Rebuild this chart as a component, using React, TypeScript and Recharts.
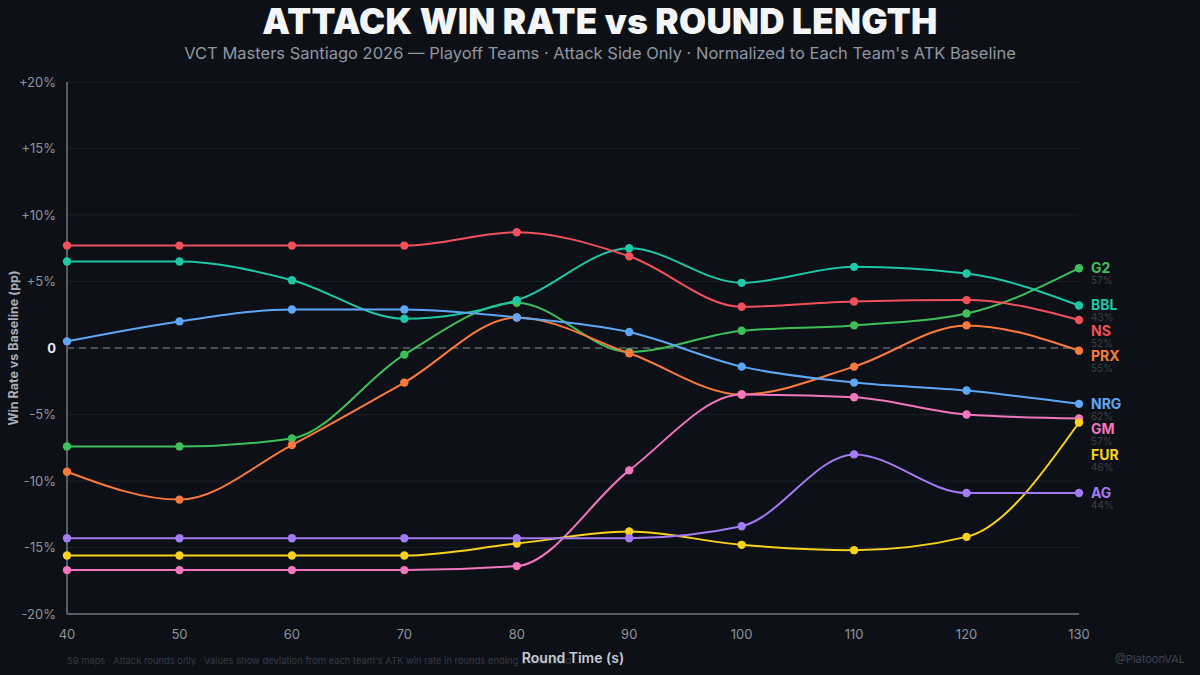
import React from "react";
import {
  LineChart, Line, XAxis, YAxis, CartesianGrid, ReferenceLine,
} from "recharts";

// round-length buckets (seconds)
const roundTimes = [40, 50, 60, 70, 80, 90, 100, 110, 120, 130];

// deviation from each team's ATK baseline, in pp
const nsValues = [7.7, 7.7, 7.7, 7.7, 8.7, 6.9, 3.1, 3.5, 3.6, 2.1];
const bblValues = [6.5, 6.5, 5.1, 2.2, 3.6, 7.5, 4.9, 6.1, 5.6, 3.2];
const g2Values = [-7.4, -7.4, -6.8, -0.5, 3.4, -0.3, 1.3, 1.7, 2.6, 6.0];
const nrgValues = [0.5, 2.0, 2.9, 2.9, 2.3, 1.2, -1.4, -2.6, -3.2, -4.2];
const prxValues = [-9.3, -11.4, -7.3, -2.6, 2.3, -0.4, -3.5, -1.4, 1.7, -0.2];
const gmValues = [-16.7, -16.7, -16.7, -16.7, -16.4, -9.2, -3.5, -3.7, -5.0, -5.3];
const furValues = [-15.6, -15.6, -15.6, -15.6, -14.7, -13.8, -14.8, -15.2, -14.2, -5.6];
const agValues = [-14.3, -14.3, -14.3, -14.3, -14.3, -14.3, -13.4, -8.0, -10.9, -10.9];

const yTicks = [-20, -15, -10, -5, 0, 5, 10, 15, 20];
const xTicks = roundTimes;

const teams = [
  { key: "G2", color: "#3fbf58", baseline: "57%", values: g2Values },
  { key: "BBL", color: "#1ec8a6", baseline: "43%", values: bblValues },
  { key: "NS", color: "#f2505b", baseline: "52%", values: nsValues },
  { key: "PRX", color: "#fb7a3b", baseline: "55%", values: prxValues },
  { key: "NRG", color: "#5ea7f6", baseline: "62%", values: nrgValues },
  { key: "GM", color: "#f476be", baseline: "57%", values: gmValues },
  { key: "FUR", color: "#f8d21c", baseline: "46%", values: furValues },
  { key: "AG", color: "#a57af5", baseline: "44%", values: agValues },
];

const rows = roundTimes.map((t, i) => {
  const row: Record<string, number> = { t };
  teams.forEach(tm => { row[tm.key] = tm.values[i]; });
  return row;
});

const W = 1200;
const H = 675;
const margin = { top: 82, right: 121, bottom: 31, left: 0 };
const plotH = H - margin.top - margin.bottom - 30;
const pxPerPP = plotH / 40;

// push end labels apart so they don't collide
const labelShift: Record<string, number> = {};
{
  const minGap = 25.5 / pxPerPP;
  const ends = teams
    .map(tm => ({ key: tm.key, v: tm.values[tm.values.length - 1] }))
    .sort((a, b) => b.v - a.v);
  let prev = Infinity;
  ends.forEach(e => {
    const v = Math.min(e.v, prev - minGap);
    labelShift[e.key] = (e.v - v) * pxPerPP;
    prev = v;
  });
}

if (typeof document !== "undefined") {
  document.body.style.margin = "0";
  document.body.style.background = "#0d1016";
}

const FONT = "Inter, 'Noto Sans', sans-serif";

function YTick(props: any) {
  const { x, y, payload } = props;
  const v = payload.value;
  const zero = v === 0;
  const txt = zero ? "0" : v > 0 ? `+${v}%` : `${v}%`;
  return (
    <text x={x} y={y} dy={4.5} textAnchor="end" fontSize={13}
      fontFamily={FONT} fontWeight={zero ? 700 : 400}
      fill={zero ? "#e6e9ee" : "#8d939d"}>
      {txt}
    </text>
  );
}

function makeDot(tm: typeof teams[number]) {
  const last = tm.values.length - 1;
  return (p: any) => {
    const { cx, cy, index } = p;
    if (cx == null || cy == null) return <g key={index} />;
    const ly = cy + (labelShift[tm.key] || 0);
    return (
      <g key={`${tm.key}-${index}`}>
        <circle cx={cx} cy={cy} r={4.2} fill={tm.color} />
        {index === last && (
          <>
            <text x={cx + 12} y={ly} dy={5} fontSize={14} fontWeight={700}
              fontFamily={FONT} fill={tm.color}>{tm.key}</text>
            <text x={cx + 12} y={ly + 12.5} dy={3.5} fontSize={10}
              fontFamily={FONT} fill="#3b414c">{tm.baseline}</text>
          </>
        )}
      </g>
    );
  };
}

export default function App() {
  return (
    <div style={{ position: "relative", width: W, height: H, background: "#0d1016", fontFamily: FONT, overflow: "hidden" }}>
      <div style={{ position: "absolute", top: 0, left: 0, width: W, textAlign: "center", color: "#f4f5f7", fontSize: 35, fontWeight: 900, lineHeight: "42px", letterSpacing: 0.3 }}>
        ATTACK WIN RATE vs ROUND LENGTH
      </div>
      <div style={{ position: "absolute", top: 42, left: 0, width: W, textAlign: "center", color: "#9097a2", fontSize: 16.5, lineHeight: "22px" }}>
        VCT Masters Santiago 2026 — Playoff Teams · Attack Side Only · Normalized to Each Team's ATK Baseline
      </div>
      <LineChart width={W} height={H} data={rows} margin={margin}>
        <CartesianGrid vertical={false} stroke="#1a1e26" strokeWidth={1} />
        <XAxis
          dataKey="t"
          type="number"
          domain={[40, 130]}
          ticks={xTicks}
          height={30}
          tickLine={false}
          tickMargin={10}
          axisLine={{ stroke: "#575c66", strokeWidth: 2 }}
          tick={{ fontSize: 13, fill: "#8d939d", fontFamily: FONT }}
        />
        <YAxis
          type="number"
          domain={[-20, 20]}
          ticks={yTicks}
          width={67}
          tickLine={false}
          tickMargin={5}
          axisLine={{ stroke: "#575c66", strokeWidth: 2 }}
          tick={<YTick />}
          interval={0}
        />
        <ReferenceLine y={0} stroke="#5d626c" strokeWidth={1.5} strokeDasharray="7 5" />
        {teams.map(tm => (
          <Line
            key={tm.key}
            dataKey={tm.key}
            type="monotone"
            stroke={tm.color}
            strokeWidth={2}
            dot={makeDot(tm)}
            activeDot={false}
            isAnimationActive={false}
          />
        ))}
        <text x={14} y={348} transform="rotate(-90 14 348)" textAnchor="middle" dy={4}
          fontSize={12.5} fontWeight={700} fontFamily={FONT} fill="#a9afb9">
          Win Rate vs Baseline (pp)
        </text>
        <text x={67} y={661} dy={3} fontSize={9.4} fontFamily={FONT} fill="#353a45">
          59 maps · Attack rounds only · Values show deviation from each team's ATK win rate in rounds ending ≤ threshold
        </text>
        <text x={573} y={658} dy={5} textAnchor="middle" fontSize={14} fontWeight={600}
          fontFamily={FONT} fill="#c7ccd4">
          Round Time (s)
        </text>
        <text x={1185} y={659} dy={4} textAnchor="end" fontSize={11}
          fontFamily={FONT} fill="#3f4551">
          @PlatoonVAL
        </text>
      </LineChart>
    </div>
  );
}
